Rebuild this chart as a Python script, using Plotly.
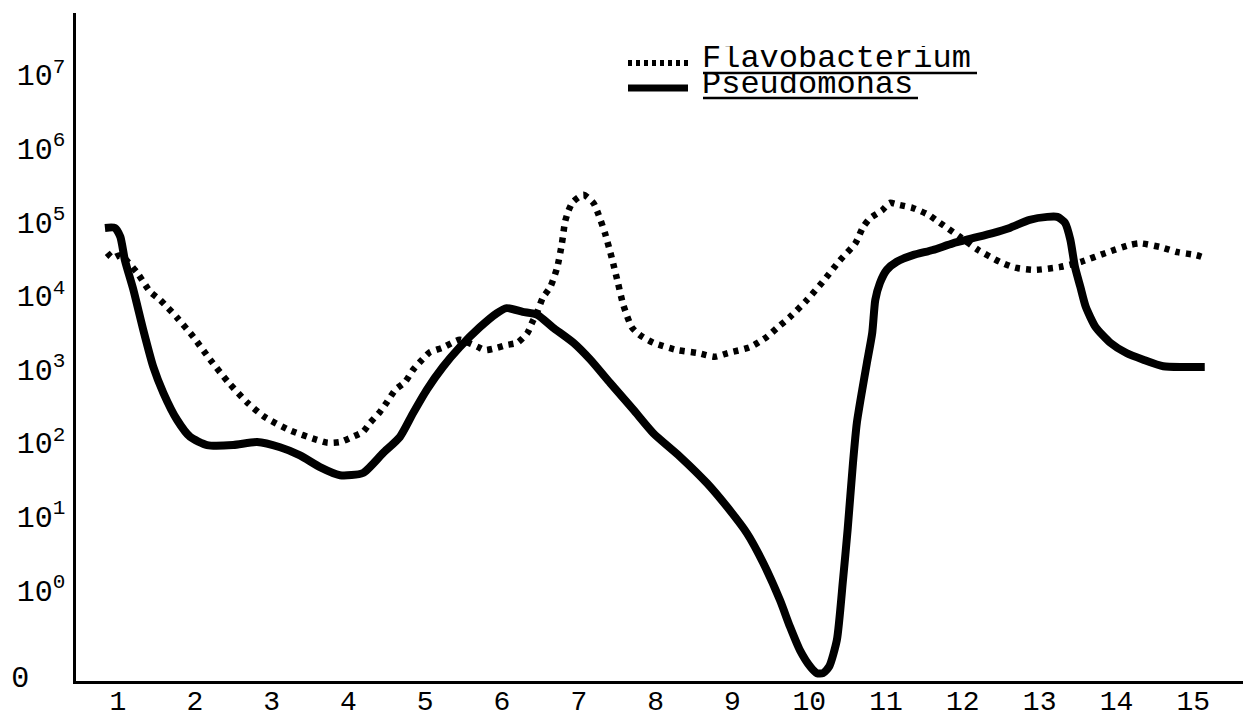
import plotly.graph_objects as go

# ---- data (x = sampling point, y = log10 of count) ----
pseudo_x = [0.83, 0.96, 1.03, 1.09, 1.20, 1.33, 1.46, 1.59, 1.77, 1.94, 2.16, 2.50, 2.81, 3.11,
            3.37, 3.63, 3.89, 4.19, 4.45, 4.67, 4.84, 5.02, 5.23, 5.45, 5.71, 5.93, 6.06, 6.27,
            6.46, 6.66, 6.93, 7.15, 7.41, 7.71, 7.97, 8.32, 8.67, 8.93, 9.19, 9.40, 9.62, 9.75,
            9.88, 10.02, 10.10, 10.18, 10.26, 10.36, 10.44, 10.50, 10.57, 10.62, 10.69, 10.75,
            10.82, 10.86, 10.92, 11.01, 11.14, 11.35, 11.61, 11.87, 12.13, 12.39, 12.61, 12.87,
            13.10, 13.23, 13.33, 13.40, 13.46, 13.53, 13.60, 13.73, 13.92, 14.13, 14.35, 14.61,
            14.87, 15.15]
pseudo_y = [4.92, 4.92, 4.80, 4.48, 4.08, 3.53, 3.03, 2.68, 2.31, 2.08, 1.97, 1.97, 2.01, 1.94,
            1.83, 1.67, 1.56, 1.59, 1.86, 2.08, 2.40, 2.72, 3.03, 3.30, 3.57, 3.76, 3.83, 3.78,
            3.74, 3.57, 3.36, 3.13, 2.81, 2.45, 2.13, 1.81, 1.45, 1.13, 0.77, 0.37, -0.14, -0.50,
            -0.82, -1.05, -1.13, -1.13, -1.04, -0.68, 0.14, 0.82, 1.73, 2.27, 2.72, 3.08,
            3.49, 3.94, 4.17, 4.35, 4.46, 4.55, 4.62, 4.71, 4.78, 4.85, 4.92, 5.03,
            5.07, 5.07, 4.99, 4.76, 4.39, 4.12, 3.85, 3.57, 3.36, 3.22, 3.13, 3.04,
            3.03, 3.03]

flavo_x = [0.86, 0.93, 1.03, 1.25, 1.42, 1.55, 1.77, 1.98, 2.20, 2.43, 2.68, 2.91, 3.24, 3.59,
           3.73, 3.89, 4.05, 4.19, 4.28, 4.41, 4.50, 4.61, 4.74, 4.84, 4.96, 5.06, 5.22, 5.45,
           5.56, 5.69, 5.78, 5.93, 6.06, 6.20, 6.33, 6.39, 6.46, 6.53, 6.63, 6.72, 6.78, 6.82,
           6.86, 6.92, 7.06, 7.19, 7.25, 7.34, 7.43, 7.51, 7.58, 7.69, 7.80, 7.97, 8.28, 8.55,
           8.77, 8.94, 9.23, 9.45, 9.58, 9.75, 9.97, 10.17, 10.40, 10.60, 10.70, 10.79, 10.95,
           11.05, 11.18, 11.35, 11.55, 11.70, 11.96, 12.20, 12.48, 12.68, 12.94, 13.27, 13.54,
           13.86, 14.18, 14.31, 14.57, 14.80, 15.04, 15.13]
flavo_y = [4.58, 4.51, 4.55, 4.31, 4.05, 3.94, 3.70, 3.44, 3.13, 2.83, 2.55, 2.35, 2.17, 2.04,
           2.00, 2.01, 2.08, 2.15, 2.27, 2.42, 2.55, 2.72, 2.83, 2.99, 3.13, 3.23, 3.29, 3.40,
           3.36, 3.30, 3.26, 3.29, 3.33, 3.36, 3.49, 3.63, 3.78, 3.97, 4.12, 4.39, 4.71, 5.00,
           5.14, 5.27, 5.37, 5.26, 5.12, 4.85, 4.51, 4.17, 3.87, 3.57, 3.46, 3.36, 3.26, 3.22,
           3.17, 3.22, 3.30, 3.44, 3.56, 3.71, 3.94, 4.18, 4.48, 4.71, 4.93, 5.05, 5.16,
           5.26, 5.23, 5.19, 5.10, 4.99, 4.80, 4.62, 4.46, 4.38, 4.35, 4.39, 4.46,
           4.58, 4.69, 4.71, 4.66, 4.59, 4.55, 4.52]

x_ticks = list(range(1, 16))
y_tick_vals = [-1.18, 0, 1, 2, 3, 4, 5, 6, 7]
y_tick_text = ["0\u00a0\u00a0", "10<sup>0</sup>", "10<sup>1</sup>", "10<sup>2</sup>", "10<sup>3</sup>",
               "10<sup>4</sup>", "10<sup>5</sup>", "10<sup>6</sup>", "10<sup>7</sup>"]
series_names = ["Flavobacterium", "Pseudomonas"]

# ---- layout constants ----
W, H = 1243, 717
ML, MR, MT, MB = 76, 0, 13, 36
PW, PH = W - ML - MR, H - MT - MB
FONT = "Liberation Mono, Courier New, monospace"


def px(xp):
    return (xp - ML) / PW


def py(yp):
    return (H - MB - yp) / PH


fig = go.Figure()
fig.add_trace(go.Scatter(x=flavo_x, y=flavo_y, mode="lines", name=series_names[0],
                         line=dict(color="black", width=6.5, dash="5px,6px", shape="spline",
                                   smoothing=0.6)))
fig.add_trace(go.Scatter(x=pseudo_x, y=pseudo_y, mode="lines", name=series_names[1],
                         line=dict(color="black", width=8, shape="spline", smoothing=0.6)))

# manual legend
shapes = [
    dict(type="line", xref="paper", yref="paper", x0=px(628), x1=px(688), y0=py(63), y1=py(63),
         line=dict(color="black", width=6, dash="4px,4px")),
    dict(type="line", xref="paper", yref="paper", x0=px(628), x1=px(688), y0=py(88), y1=py(88),
         line=dict(color="black", width=7)),
    dict(type="line", xref="paper", yref="paper", x0=px(703), x1=px(977), y0=py(73), y1=py(73),
         line=dict(color="black", width=2.5)),
    dict(type="line", xref="paper", yref="paper", x0=px(703), x1=px(918), y0=py(98), y1=py(98),
         line=dict(color="black", width=2.5)),
]
annotations = [
    dict(text=series_names[0], xref="paper", yref="paper", x=px(700), y=py(58), xanchor="left",
         yanchor="middle", height=24, valign="middle", showarrow=False,
         font=dict(family=FONT, size=32, color="black")),
    dict(text=series_names[1], xref="paper", yref="paper", x=px(700), y=py(84), xanchor="left",
         yanchor="middle", height=24, valign="middle", showarrow=False,
         font=dict(family=FONT, size=32, color="black")),
]

fig.update_layout(
    width=W, height=H,
    margin=dict(l=ML, r=MR, t=MT, b=MB, pad=0, autoexpand=False),
    paper_bgcolor="white", plot_bgcolor="white",
    showlegend=False,
    shapes=shapes, annotations=annotations,
    font=dict(family=FONT, size=30, color="black"),
)
fig.update_xaxes(range=[0.453, 15.648], tickvals=x_ticks, ticks="", showgrid=False, zeroline=False,
                 showline=True, linecolor="black", linewidth=2.5, tickfont=dict(family=FONT, size=28),
                 ticklabelstandoff=-7, automargin=False)
fig.update_yaxes(range=[-1.236, 7.84], tickvals=y_tick_vals, ticktext=y_tick_text, ticks="",
                 showgrid=False, zeroline=False, showline=True, linecolor="black", linewidth=2.5,
                 tickfont=dict(family=FONT, size=30), ticklabelstandoff=2, automargin=False)

fig.write_html("out.html")
